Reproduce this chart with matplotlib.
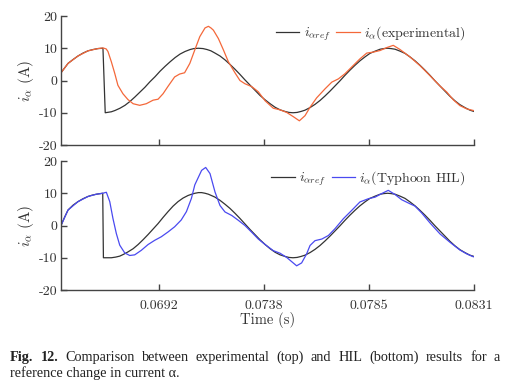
import matplotlib
matplotlib.use("Agg")
import matplotlib.pyplot as plt

plt.rcParams['font.family'] = ['cmr10', 'DejaVu Serif']
plt.rcParams['mathtext.fontset'] = 'cm'
plt.rcParams['axes.formatter.use_mathtext'] = True

# ---------------- data ----------------
t_ref_top = [0.06489, 0.06505, 0.06520, 0.06542, 0.06564, 0.06586, 0.06608, 0.06630,
             0.06652, 0.06674, 0.06684, 0.06711, 0.06727, 0.06749, 0.06771, 0.06793,
             0.06815, 0.06837, 0.06859, 0.06881, 0.06904, 0.06926, 0.06948, 0.06970,
             0.06992, 0.07014, 0.07036, 0.07058, 0.07075, 0.07095, 0.07115, 0.07133,
             0.07150, 0.07168, 0.07190, 0.07212, 0.07234, 0.07256, 0.07278, 0.07300,
             0.07322, 0.07344, 0.07366, 0.07389, 0.07411, 0.07433, 0.07455, 0.07477,
             0.07494, 0.07512, 0.07530, 0.07547, 0.07565, 0.07587, 0.07609, 0.07631,
             0.07653, 0.07675, 0.07697, 0.07719, 0.07741, 0.07763, 0.07785, 0.07807,
             0.07829, 0.07851, 0.07874, 0.07896, 0.07913, 0.07929, 0.07944, 0.07962,
             0.07984, 0.08006, 0.08028, 0.08050, 0.08072, 0.08094, 0.08116, 0.08138,
             0.08160, 0.08182, 0.08204, 0.08226, 0.08248, 0.08270, 0.08292, 0.08310]
i_ref_top = [2.4, 3.9, 5.3, 6.5, 7.6, 8.5, 9.2, 9.6,
             9.9, 10.0, -10.0, -9.7, -9.3, -8.6, -7.7, -6.5,
             -5.1, -3.6, -2.1, -0.4, 1.2, 2.9, 4.4, 5.8,
             7.1, 8.2, 9.0, 9.6, 9.9, 10.0, 9.9, 9.6,
             9.2, 8.5, 7.6, 6.4, 5.0, 3.5, 1.9, 0.2,
             -1.4, -3.0, -4.6, -6.0, -7.2, -8.3, -9.1, -9.6,
             -9.9, -10.0, -9.9, -9.6, -9.2, -8.4, -7.4, -6.2,
             -4.8, -3.3, -1.7, -0.1, 1.6, 3.2, 4.7, 6.1,
             7.3, 8.4, 9.1, 9.7, 9.9, 10.0, 9.9, 9.7,
             9.1, 8.4, 7.3, 6.1, 4.7, 3.2, 1.6, -0.1,
             -1.7, -3.3, -4.9, -6.3, -7.5, -8.4, -9.2, -9.6]

t_exp = [0.06489, 0.06520, 0.06564, 0.06608, 0.06652, 0.06674, 0.06688, 0.06696,
         0.06711, 0.06726, 0.06740, 0.06762, 0.06784, 0.06807, 0.06836, 0.06865,
         0.06895, 0.06917, 0.06939, 0.06961, 0.06990, 0.07012, 0.07034, 0.07057,
         0.07079, 0.07101, 0.07124, 0.07139, 0.07150, 0.07161, 0.07183, 0.07205,
         0.07227, 0.07256, 0.07278, 0.07300, 0.07330, 0.07359, 0.07389, 0.07425,
         0.07455, 0.07484, 0.07513, 0.07540, 0.07565, 0.07587, 0.07616, 0.07653,
         0.07683, 0.07712, 0.07741, 0.07771, 0.07807, 0.07837, 0.07866, 0.07896,
         0.07925, 0.07954, 0.07984, 0.08028, 0.08072, 0.08116, 0.08160, 0.08190,
         0.08219, 0.08248, 0.08278, 0.08307]
i_exp = [2.4, 5.3, 7.6, 9.2, 9.9, 10.1, 9.8, 9.0,
         5.8, 2.2, -1.5, -4.1, -5.9, -7.2, -7.7, -7.2,
         -6.1, -5.8, -4.1, -1.8, 1.1, 2.0, 2.4, 5.3,
         9.5, 13.6, 16.3, 16.8, 16.3, 15.6, 13.0, 9.5,
         5.8, 2.4, 0.0, -1.0, -1.9, -3.5, -6.3, -8.6,
         -9.1, -9.9, -11.2, -12.5, -10.9, -8.3, -5.4, -2.6,
         -0.5, 0.5, 2.1, 4.2, 6.7, 8.5, 8.8, 9.3,
         10.2, 10.9, 9.6, 7.3, 4.6, 1.5, -1.7, -3.6,
         -6.0, -7.8, -8.8, -9.3]

t_ref_bot = [0.06489, 0.06505, 0.06520, 0.06542, 0.06564, 0.06586, 0.06608, 0.06626,
             0.06645, 0.06673, 0.06676, 0.06711, 0.06730, 0.06748, 0.06766, 0.06784,
             0.06807, 0.06829, 0.06851, 0.06873, 0.06895, 0.06917, 0.06939, 0.06961,
             0.06983, 0.07005, 0.07027, 0.07049, 0.07065, 0.07080, 0.07095, 0.07109,
             0.07124, 0.07139, 0.07168, 0.07190, 0.07212, 0.07234, 0.07256, 0.07278,
             0.07300, 0.07322, 0.07344, 0.07366, 0.07389, 0.07411, 0.07433, 0.07455,
             0.07477, 0.07494, 0.07512, 0.07530, 0.07547, 0.07565, 0.07587, 0.07609,
             0.07631, 0.07653, 0.07675, 0.07697, 0.07719, 0.07741, 0.07763, 0.07785,
             0.07807, 0.07829, 0.07851, 0.07874, 0.07896, 0.07913, 0.07929, 0.07944,
             0.07962, 0.07984, 0.08006, 0.08028, 0.08050, 0.08072, 0.08094, 0.08116,
             0.08138, 0.08160, 0.08182, 0.08204, 0.08226, 0.08248, 0.08270, 0.08292,
             0.08310]
i_ref_bot = [0.0, 2.6, 4.8, 6.3, 7.4, 8.3, 9.0, 9.4,
             9.7, 10.0, -10.0, -10.0, -9.8, -9.5, -8.9, -8.2,
             -7.2, -5.9, -4.4, -2.8, -1.1, 0.6, 2.5, 4.3,
             6.0, 7.4, 8.5, 9.3, 9.7, 10.0, 10.2, 10.2,
             10.0, 9.7, 8.8, 7.8, 6.6, 5.3, 3.8, 2.2,
             0.5, -1.2, -2.8, -4.4, -5.9, -7.2, -8.3, -9.1,
             -9.6, -9.9, -10.0, -9.9, -9.6, -9.2, -8.4, -7.4,
             -6.2, -4.8, -3.3, -1.7, -0.1, 1.6, 3.2, 4.7,
             6.1, 7.3, 8.4, 9.1, 9.7, 9.9, 10.0, 9.9,
             9.7, 9.1, 8.4, 7.3, 6.1, 4.7, 3.2, 1.6,
             -0.1, -1.7, -3.3, -4.9, -6.3, -7.5, -8.4, -9.2,
             -9.6]

t_hil = [0.06489, 0.06520, 0.06564, 0.06608, 0.06645, 0.06673, 0.06689, 0.06704,
         0.06718, 0.06733, 0.06748, 0.06770, 0.06792, 0.06814, 0.06843, 0.06873,
         0.06902, 0.06931, 0.06961, 0.06990, 0.07019, 0.07042, 0.07064, 0.07079,
         0.07095, 0.07109, 0.07127, 0.07146, 0.07168, 0.07190, 0.07212, 0.07242,
         0.07271, 0.07300, 0.07330, 0.07359, 0.07389, 0.07425, 0.07455, 0.07484,
         0.07506, 0.07528, 0.07550, 0.07572, 0.07587, 0.07609, 0.07639, 0.07668,
         0.07697, 0.07734, 0.07771, 0.07807, 0.07844, 0.07874, 0.07903, 0.07932,
         0.07962, 0.07991, 0.08020, 0.08050, 0.08079, 0.08116, 0.08160, 0.08204,
         0.08248, 0.08278, 0.08307]
i_hil = [0.0, 4.8, 7.4, 9.0, 9.7, 10.0, 10.3, 7.4,
         2.2, -2.5, -6.1, -8.5, -9.3, -9.1, -7.7, -5.9,
         -4.6, -3.5, -2.0, -0.4, 1.7, 4.3, 8.4, 12.6,
         15.0, 17.1, 18.0, 16.1, 10.4, 6.2, 4.2, 3.1,
         1.6, 0.0, -2.1, -4.2, -5.9, -7.8, -8.6, -9.9,
         -11.2, -12.5, -11.6, -8.8, -6.2, -4.7, -4.2, -3.1,
         -1.0, 2.1, 4.7, 7.3, 8.3, 8.8, 9.9, 10.9,
         9.6, 8.0, 7.0, 6.0, 3.9, 0.8, -2.6, -5.2,
         -7.6, -8.8, -9.7]

x_ticks = [0.069225, 0.07385, 0.078475, 0.0831]
x_tick_labels = ['0.0692', '0.0738', '0.0785', '0.0831']
y_ticks = [-20, -10, 0, 10, 20]
y_tick_labels = ['-20', '-10', '0', '10', '20']

caption_bold = "Fig. 12."
caption_line1 = "Comparison between experimental (top) and HIL (bottom) results for a"
caption_line2 = "reference change in current α."

# ---------------- figure ----------------
W, H = 506, 385
fig = plt.figure(figsize=(W / 100, H / 100), dpi=100)

def ax_rect(l, r, t, b):
    return [l / W, 1 - b / H, (r - l) / W, (b - t) / H]

ax1 = fig.add_axes(ax_rect(61, 474, 16, 145))
ax2 = fig.add_axes(ax_rect(61, 474, 161, 290))

black = '#333333'
orange = '#f4683a'
blue = '#4a4af0'
spine_c = '#444444'

def style(ax, show_x):
    ax.set_xlim(0.06489, 0.0831)
    ax.set_ylim(-20, 20)
    for s in ['top', 'right']:
        ax.spines[s].set_visible(False)
    for s in ['left', 'bottom']:
        ax.spines[s].set_color(spine_c)
        ax.spines[s].set_linewidth(1.0)
    ax.set_xticks(x_ticks)
    ax.set_yticks(y_ticks)
    ax.set_yticklabels(y_tick_labels)
    if show_x:
        ax.set_xticklabels(x_tick_labels)
    else:
        ax.set_xticklabels([])
    ax.tick_params(direction='in', length=4, width=1.0, color=spine_c,
                   labelsize=10, labelcolor='#333333')
    ax.tick_params(axis='y', pad=2.5)
    ax.tick_params(axis='x', pad=7)
    ax.set_ylabel(r'$i_\alpha$ (A)', fontsize=11, color='#333333')
    ax.yaxis.set_label_coords(-0.06, 0.5)

ax1.plot(t_ref_top, i_ref_top, color=black, lw=0.9, label=r'$i_{\alpha ref}$')
ax1.plot(t_exp, i_exp, color=orange, lw=0.9, label=r'$i_\alpha$(experimental)')
style(ax1, False)

ax2.plot(t_ref_bot, i_ref_bot, color=black, lw=0.9, label=r'$i_{\alpha ref}$')
ax2.plot(t_hil, i_hil, color=blue, lw=0.9, label=r'$i_\alpha$(Typhoon HIL)')
style(ax2, True)
ax2.set_xlabel('Time (s)', fontsize=10.5, color='#333333', labelpad=0)

for ax in (ax1, ax2):
    leg = ax.legend(loc='upper right', ncol=2, frameon=False, fontsize=10,
                    handlelength=1.7, handletextpad=0.3, columnspacing=0.4,
                    borderaxespad=0.2, bbox_to_anchor=(1.0, 1.0))
    for txt in leg.get_texts():
        txt.set_color('#333333')

# ---------------- caption (justified first line) ----------------
cap_font = dict(family=['Liberation Serif', 'DejaVu Serif'], fontsize=10.3, color='#222222')
renderer = fig.canvas.get_renderer()
x_left, x_right = 10, 500
y1 = 1 - 361 / H
y2 = 1 - 377 / H

words1 = [(w, 'bold') for w in caption_bold.split()] + [(w, 'normal') for w in caption_line1.split()]
texts = []
for w, wt in words1:
    tx = fig.text(0, y1, w, fontweight=wt, va='baseline', ha='left', **cap_font)
    texts.append(tx)
widths = [tx.get_window_extent(renderer).width for tx in texts]
gap = (x_right - x_left - sum(widths)) / (len(texts) - 1)
xpos = x_left
for tx, wd in zip(texts, widths):
    tx.set_x(xpos / W)
    xpos += wd + gap

fig.text(x_left / W, y2, caption_line2, va='baseline', ha='left', **cap_font)

fig.savefig('out.png', dpi=100)
